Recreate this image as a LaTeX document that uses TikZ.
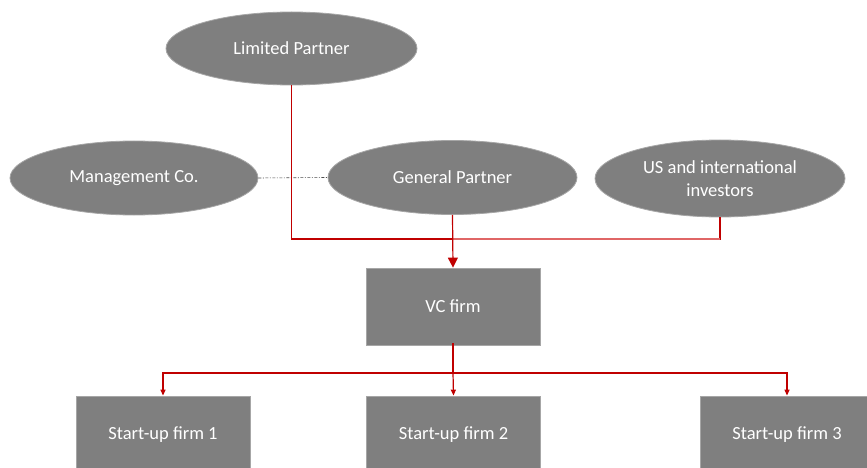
\documentclass[tikz,border=0pt]{standalone}
\usepackage{fontspec}
\setmainfont{Carlito}
\usetikzlibrary{shapes.geometric,arrows.meta}
\definecolor{boxgray}{HTML}{7F7F7F}
\definecolor{edgegray}{HTML}{A6A6A6}
\definecolor{linkred}{HTML}{C00000}
\definecolor{lightred}{HTML}{E06666}
\tikzset{
  oval/.style={ellipse, fill=boxgray, draw=edgegray, line width=0.8pt, text=white, font=\fontsize{18.5}{23}\selectfont, align=center, inner sep=0pt},
  firm/.style={rectangle, fill=boxgray, draw=edgegray, line width=0.8pt, text=white, font=\fontsize{18.5}{23}\selectfont, minimum width=174pt, minimum height=77pt, inner sep=0pt},
  link/.style={draw=linkred, line width=1.2pt},
  bigtip/.style={-{Triangle[length=10pt,width=10pt]}},
  smalltip/.style={-{Triangle[length=6pt,width=5pt]}},
  dotlink/.style={draw=black!70, line width=0.6pt, dash pattern=on 3pt off 1.5pt on 1pt off 1.5pt}
}
\begin{document}
\begin{tikzpicture}[x=1pt,y=-1pt]
\clip (0,0) rectangle (867,468);
\fill[white] (0,0) rectangle (867,468);
\node[oval, minimum width=251pt, minimum height=73pt] (LP) at (291.5,48.5) {Limited Partner};
\node[oval, minimum width=248pt, minimum height=74pt] (MC) at (134,178) {Management Co.};
\node[oval, minimum width=249pt, minimum height=74pt] (GP) at (452.5,177.5) {General Partner};
\node[oval, minimum width=250pt, minimum height=77pt] (US) at (720,178.5) {US and international\\investors};
\node[firm] (VC) at (453,306.5) {VC firm};
\node[firm] (S1) at (163,434.5) {Start-up firm 1};
\node[firm] (S2) at (453.5,434.5) {Start-up firm 2};
\node[firm] (S3) at (787,434.5) {Start-up firm 3};
\coordinate (join) at (453,239);
\coordinate (split) at (453,373);
\draw[dotlink] (MC.east) -- (GP.west);
\draw[link] (LP.south) |- (join);
\draw[link] (US.south) |- (join);
\draw[draw=lightred, line width=1.2pt] (join) -- (join -| US.south);
\draw[link, bigtip] (GP.south) -- (VC.north);
\draw[link] ([yshift=2pt]VC.south) -- (split);
\draw[link, smalltip] (split) -| (S1.north);
\draw[link, smalltip] (split) -- (S2.north);
\draw[link, smalltip] (split) -| (S3.north);
\end{tikzpicture}
\end{document}
